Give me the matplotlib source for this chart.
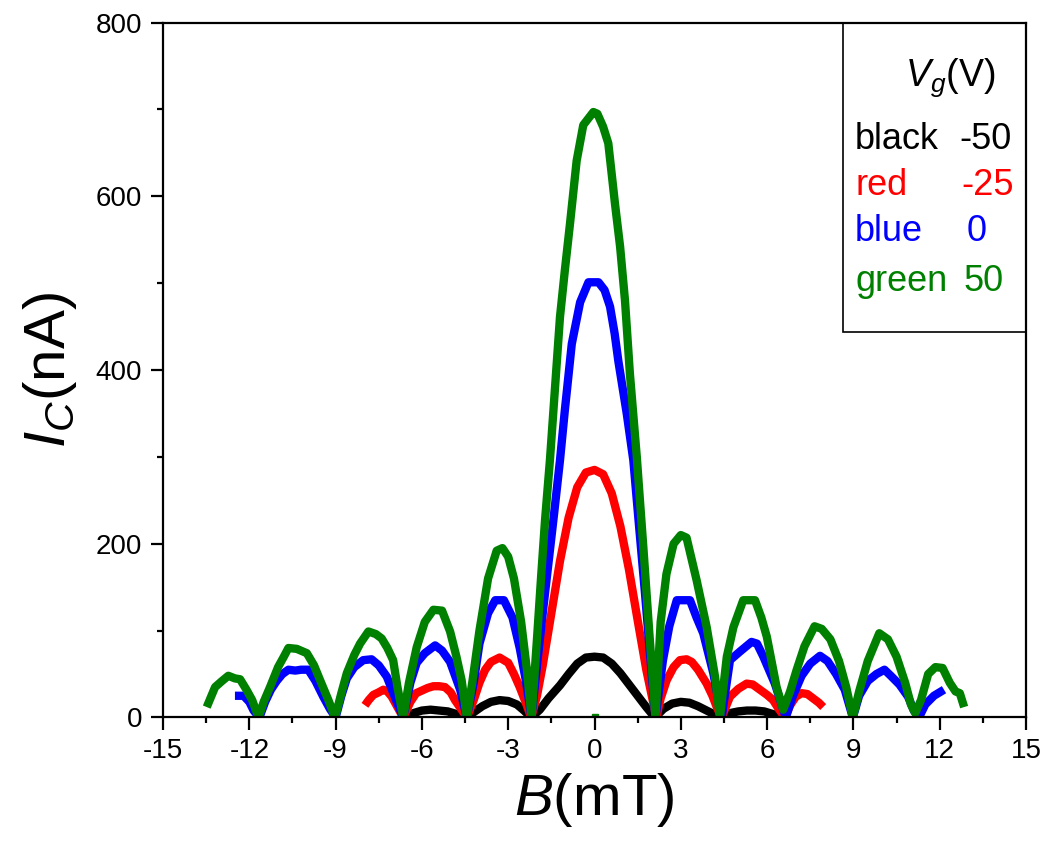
import numpy as np
import matplotlib
matplotlib.use('Agg')
import matplotlib.pyplot as plt
from matplotlib.patches import Rectangle

plt.rcParams['font.family'] = ['Liberation Sans', 'DejaVu Sans']
plt.rcParams['mathtext.fontset'] = 'custom'
plt.rcParams['mathtext.rm'] = 'Liberation Sans'
plt.rcParams['mathtext.it'] = 'Liberation Sans:italic'
plt.rcParams['axes.unicode_minus'] = False

# Vg = -50 V (black)
b_black = [-6.65, -6.3, -6.0, -5.7, -5.4, -5.1, -4.8, -4.55, -4.42, -4.2, -3.9, -3.6, -3.3, -3.0,
           -2.7, -2.45, -2.2, -1.9, -1.6, -1.2, -0.9, -0.6, -0.3, 0.0, 0.3, 0.6, 0.9, 1.2, 1.5,
           1.8, 2.1, 2.4, 2.7, 3.0, 3.3, 3.6, 3.9, 4.2, 4.42, 4.7, 5.0, 5.3, 5.6, 5.9, 6.2, 6.5]
i_black = [0, 5, 8, 9, 8, 7, 4, 2, 0, 6, 13, 18, 20, 19,
           15, 8, 0, 9, 22, 37, 50, 62, 69, 70, 69, 62, 51, 38, 25,
           12, 0, 10, 16, 18, 17, 13, 8, 3, 0, 5, 7, 8, 8, 7, 4, 1]

# Vg = -25 V (red)
b_red = [-7.98, -7.85, -7.69, -7.5, -7.34, -7.2, -7.05, -6.9, -6.65, -6.4, -6.2, -6.0, -5.8, -5.6,
         -5.4, -5.2, -5.0, -4.85, -4.6, -4.44, -4.2, -4.0, -3.8, -3.6, -3.3, -3.0, -2.8, -2.6,
         -2.4, -2.2, -2.0, -1.8, -1.5, -1.2, -0.9, -0.6, -0.3, 0.0, 0.3, 0.6, 0.9, 1.2, 1.5, 1.8,
         2.15, 2.3, 2.51, 2.75, 2.97, 3.2, 3.38, 3.6, 3.9, 4.1, 4.25, 4.42, 4.6, 4.71, 5.0, 5.29,
         5.5, 5.75, 6.0, 6.21, 6.4, 6.62, 6.8, 7.0, 7.2, 7.4, 7.6, 7.8, 7.95]
i_red = [14, 20, 26, 29, 32, 30, 24, 15, 0, 18, 28, 31, 34, 36,
         36, 35, 29, 20, 8, 0, 20, 40, 55, 64, 69, 63, 50, 35,
         18, 0, 25, 60, 120, 180, 230, 265, 282, 285, 280, 258, 220, 170, 112, 55,
         0, 22, 43, 58, 66, 67, 64, 55, 39, 25, 12, 0, 15, 24, 33, 39,
         38, 32, 26, 20, 10, 0, 14, 24, 28, 27, 22, 17, 12]

# Vg = 0 V (blue)
b_blue = [-12.5, -12.2, -12.0, -11.85, -11.65, -11.45, -11.25, -11.05, -10.85, -10.64, -10.4, -10.2,
          -9.95, -9.7, -9.43, -9.2, -9.0, -8.8, -8.61, -8.35, -8.04, -7.75, -7.5, -7.22, -6.9,
          -6.65, -6.4, -6.18, -5.9, -5.54, -5.3, -5.02, -4.67, -4.44, -4.2, -4.0, -3.7, -3.45,
          -3.15, -2.85, -2.6, -2.4, -2.19, -2.0, -1.8, -1.6, -1.4, -1.2, -1.03, -0.79, -0.5,
          -0.21, 0.14, 0.35, 0.54, 0.7, 0.83, 1.12, 1.35, 1.55, 1.75, 1.95, 2.12, 2.38, 2.6,
          2.86, 3.1, 3.32, 3.55, 3.78, 4.13, 4.42, 4.71, 5.06, 5.46, 5.65, 5.87, 6.27, 6.65,
          6.9, 7.2, 7.5, 7.84, 8.1, 8.4, 8.7, 8.98, 9.2, 9.5, 9.8, 10.08, 10.3, 10.6, 10.9,
          11.1, 11.28, 11.5, 11.8, 12.15]
i_blue = [25, 25, 18, 8, 0, 18, 32, 42, 50, 55, 54, 55,
          55, 42, 24, 10, 0, 25, 45, 58, 66, 67, 60, 47, 20,
          0, 40, 63, 74, 83, 77, 64, 32, 0, 40, 85, 120, 135,
          135, 115, 80, 45, 0, 60, 120, 178, 236, 296, 354, 430, 478,
          501, 501, 492, 473, 442, 410, 350, 296, 220, 145, 65, 0, 66, 105,
          135, 135, 135, 115, 97, 51, 0, 66, 76, 87, 85, 70, 39, 0,
          25, 48, 62, 71, 65, 50, 32, 0, 25, 42, 50, 55, 48, 38, 24,
          8, 0, 15, 25, 32]

# Vg = 50 V (green)
b_green = [-13.48, -13.19, -12.95, -12.73, -12.5, -12.32, -12.1, -11.9, -11.68, -11.5, -11.28, -11.0,
           -10.8, -10.64, -10.35, -10.0, -9.75, -9.54, -9.25, -9.02, -8.8, -8.61, -8.35, -8.15,
           -7.86, -7.6, -7.4, -7.2, -7.0, -6.85, -6.65, -6.45, -6.18, -5.9, -5.6, -5.3, -5.02,
           -4.8, -4.62, -4.44, -4.25, -4.0, -3.7, -3.4, -3.2, -3.0, -2.8, -2.55, -2.35, -2.19,
           -2.0, -1.85, -1.72, -1.55, -1.2, -1.03, -0.85, -0.62, -0.39, -0.04, 0.1, 0.3, 0.48,
           0.71, 0.89, 1.06, 1.23, 1.47, 1.7, 1.9, 2.12, 2.3, 2.5, 2.75, 3.0, 3.2, 3.55, 3.9,
           4.19, 4.36, 4.6, 4.83, 5.17, 5.58, 5.8, 5.99, 6.33, 6.56, 6.8, 7.03, 7.3, 7.65, 7.9,
           8.2, 8.5, 8.75, 8.98, 9.2, 9.5, 9.9, 10.2, 10.5, 10.8, 11.0, 11.15, 11.35, 11.6,
           11.85, 12.1, 12.35, 12.55, 12.7, 12.85]
i_green = [12, 35, 42, 48, 45, 44, 32, 20, 0, 18, 35, 58,
           70, 80, 79, 74, 60, 43, 20, 0, 28, 51, 72, 85,
           99, 96, 91, 80, 66, 35, 0, 40, 81, 110, 124, 123, 99,
           70, 43, 0, 40, 100, 160, 192, 195, 185, 160, 110, 55, 0,
           90, 165, 227, 296, 461, 515, 569, 641, 682, 697, 695, 680, 661,
           592, 542, 480, 396, 300, 195, 100, 0, 110, 165, 200, 210, 207, 158, 104,
           47, 0, 70, 104, 135, 135, 115, 93, 35, 9, 30, 55, 82, 105, 102,
           90, 65, 35, 0, 30, 65, 97, 90, 70, 40, 15, 5, 20, 50,
           58, 57, 40, 30, 28, 12]

curves = [(b_black, i_black, 'black'), (b_red, i_red, 'red'),
          (b_blue, i_blue, 'blue'), (b_green, i_green, 'green')]

legend_rows = [('black', '-50', 'black'), ('red', '-25', 'red'),
               ('blue', '0', 'blue'), ('green', '50', 'green')]

fig = plt.figure(figsize=(10.45, 8.47), dpi=100)
ax = fig.add_axes([0.156, 0.1529, 0.8258, 0.8205])

for b, i, c in curves:
    ax.plot(b, i, color=c, lw=6, solid_joinstyle='round', solid_capstyle='butt')
ax.plot([0], [0], 's', color='green', ms=4)

ax.set_xlim(-15, 15)
ax.set_ylim(0, 800)
ax.set_xticks(np.arange(-15, 16, 3))
ax.set_xticks(np.arange(-13.5, 15, 3), minor=True)
ax.set_yticks(np.arange(0, 801, 200))
ax.set_yticks(np.arange(100, 800, 200), minor=True)
ax.tick_params(which='both', direction='out', width=1.6, labelsize=20, pad=6)
ax.tick_params(which='major', length=9)
ax.tick_params(which='minor', length=4.5)
for s in ax.spines.values():
    s.set_linewidth(1.6)

ax.set_xlabel(r'$B$(mT)', fontsize=42, labelpad=5)
ax.set_ylabel(r'$I_C$(nA)', fontsize=42, labelpad=12)

# legend box
ax.add_patch(Rectangle((0.788, 0.555), 0.212, 0.445, transform=ax.transAxes,
                       fill=False, ec='black', lw=1.2, clip_on=False))
ax.text(0.912, 0.92, r'$V_g$(V)', transform=ax.transAxes, fontsize=27,
        ha='center', va='center')
ys = [0.832, 0.766, 0.699, 0.627]
num_x = [0.953, 0.955, 0.943, 0.951]
for (word, num, c), y, nx in zip(legend_rows, ys, num_x):
    ax.text(0.802, y, word, transform=ax.transAxes, fontsize=26, color=c,
            ha='left', va='center')
    ax.text(nx, y, num, transform=ax.transAxes, fontsize=26, color=c,
            ha='center', va='center')

fig.savefig('out.png', dpi=100)
